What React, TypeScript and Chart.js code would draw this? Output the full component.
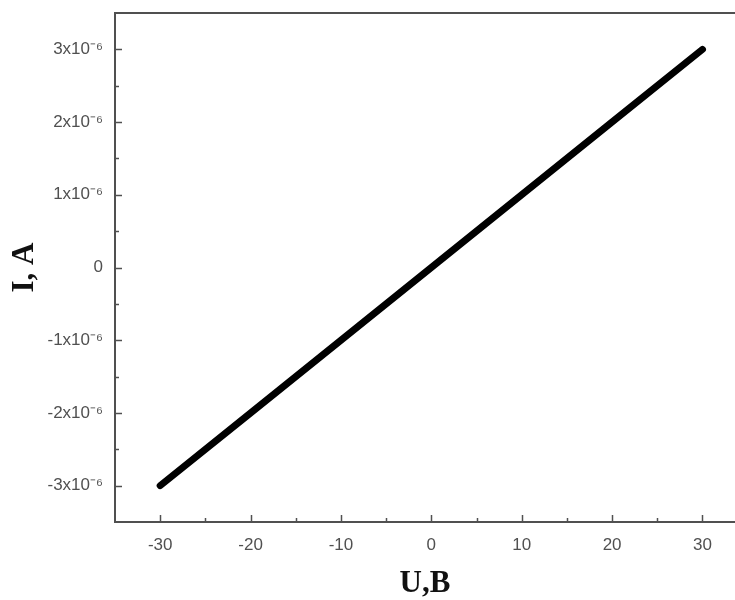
import React, { useEffect, useRef } from "react";
import { Chart, registerables } from "chart.js";

Chart.register(...registerables);

// Data (U in volts, I in amperes)
const voltage = [-30, -20, -10, 0, 10, 20, 30];
const current = [-3e-6, -2e-6, -1e-6, 0, 1e-6, 2e-6, 3e-6];

// Axis ticks
const xTickValues = [-30, -20, -10, 0, 10, 20, 30];
const xTickLabels = ["-30", "-20", "-10", "0", "10", "20", "30"];
const xMinorValues = [-25, -15, -5, 5, 15, 25];
const yTickValues = [-3e-6, -2e-6, -1e-6, 0, 1e-6, 2e-6, 3e-6];
const yTickLabels = ["-3x10\u207B\u2076", "-2x10\u207B\u2076", "-1x10\u207B\u2076", "0", "1x10\u207B\u2076", "2x10\u207B\u2076", "3x10\u207B\u2076"];
const yMinorValues = [-2.5e-6, -1.5e-6, -0.5e-6, 0.5e-6, 1.5e-6, 2.5e-6];

const xRange = [-35, 33.6];
const yRange = [-3.5e-6, 3.5e-6];

const AXIS_COLOR = "#505050";
const LABEL_COLOR = "#505050";

const framePlugin = {
  id: "frame",
  afterDatasetsDraw(chart: any) {
    const { ctx, chartArea, scales } = chart;
    const { left, right, top, bottom } = chartArea;
    ctx.save();
    ctx.strokeStyle = AXIS_COLOR;
    ctx.lineWidth = 2;
    ctx.beginPath();
    ctx.moveTo(right, top);
    ctx.lineTo(left, top);
    ctx.lineTo(left, bottom);
    ctx.lineTo(right, bottom);
    ctx.stroke();
    ctx.lineWidth = 1.5;
    const xs = scales.x;
    const ys = scales.y;
    const drawX = (v: number, len: number) => {
      const px = Math.round(xs.getPixelForValue(v)) + 0.5;
      ctx.beginPath();
      ctx.moveTo(px, bottom);
      ctx.lineTo(px, bottom - len);
      ctx.stroke();
    };
    const drawY = (v: number, len: number) => {
      const py = Math.round(ys.getPixelForValue(v)) + 0.5;
      ctx.beginPath();
      ctx.moveTo(left, py);
      ctx.lineTo(left + len, py);
      ctx.stroke();
    };
    xTickValues.forEach((v) => drawX(v, 7));
    xMinorValues.forEach((v) => drawX(v, 4));
    yTickValues.forEach((v) => drawY(v, 7));
    yMinorValues.forEach((v) => drawY(v, 4));
    ctx.restore();
  },
};

export default function App() {
  const canvasRef = useRef<HTMLCanvasElement | null>(null);

  useEffect(() => {
    const canvas = canvasRef.current;
    if (!canvas) return;
    const points = voltage.map((u, i) => ({ x: u, y: current[i] }));
    const chart = new Chart(canvas, {
      type: "scatter",
      data: {
        datasets: [
          {
            data: points,
            showLine: true,
            borderColor: "#000000",
            backgroundColor: "#000000",
            borderWidth: 7,
            borderCapStyle: "round",
            pointRadius: 0,
          } as any,
        ],
      },
      options: {
        animation: false,
        responsive: true,
        maintainAspectRatio: false,
        layout: { padding: { top: 13, right: 0, left: 0, bottom: 0 } },
        plugins: { legend: { display: false }, tooltip: { enabled: false } },
        scales: {
          x: {
            type: "linear",
            min: xRange[0],
            max: xRange[1],
            grid: { display: false, drawTicks: false },
            border: { display: false },
            afterBuildTicks: (scale: any) => {
              scale.ticks = xTickValues.map((v) => ({ value: v }));
            },
            afterFit: (scale: any) => {
              scale.height = 78;
              scale.paddingLeft = 0;
              scale.paddingRight = 0;
            },
            ticks: {
              color: LABEL_COLOR,
              font: { family: "'Liberation Sans', Arial, sans-serif", size: 17 },
              padding: 13,
              maxRotation: 0,
              autoSkip: false,
              callback: (_v: any, i: number) => xTickLabels[i],
            },
            title: {
              display: true,
              text: "U,B",
              color: "#111111",
              font: { family: "'Liberation Serif', 'Times New Roman', serif", size: 31, weight: "bold" },
              padding: { top: 0, bottom: -3 },
            },
          },
          y: {
            type: "linear",
            min: yRange[0],
            max: yRange[1],
            grid: { display: false, drawTicks: false },
            border: { display: false },
            afterBuildTicks: (scale: any) => {
              scale.ticks = yTickValues.map((v) => ({ value: v }));
            },
            afterFit: (scale: any) => {
              scale.width = 115;
              scale.paddingTop = 0;
              scale.paddingBottom = 0;
            },
            ticks: {
              color: LABEL_COLOR,
              font: { family: "'Liberation Sans', Arial, sans-serif", size: 17 },
              padding: 12,
              autoSkip: false,
              callback: (_v: any, i: number) => yTickLabels[i],
            },
            title: {
              display: true,
              text: "I, A",
              color: "#111111",
              font: { family: "'Liberation Serif', 'Times New Roman', serif", size: 31, weight: "bold" },
              padding: { top: 6, bottom: 0 },
            },
          },
        },
      },
      plugins: [framePlugin],
    });
    return () => chart.destroy();
  }, []);

  return (
    <div style={{ position: "fixed", left: 0, top: 0, width: 735, height: 600, background: "#ffffff" }}>
      <canvas ref={canvasRef} />
    </div>
  );
}
